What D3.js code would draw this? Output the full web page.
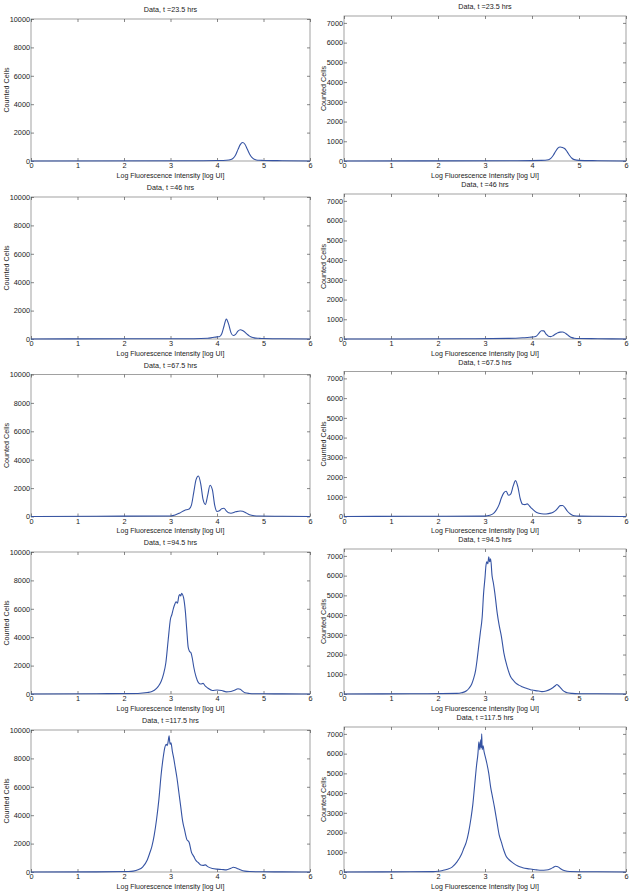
<!DOCTYPE html>
<html>
<head>
<meta charset="utf-8">
<script src="https://cdn.jsdelivr.net/npm/d3@7"></script>
<style>
  body { margin: 0; background: #fff; }
  svg { display: block; }
  text { font-family: "Liberation Sans", Arial, sans-serif; fill: #222; }
</style>
</head>
<body>
<div id="chart"></div>
<script>
// titles (one per row)
const titles = ["Data, t =23.5 hrs", "Data, t =46 hrs", "Data, t =67.5 hrs", "Data, t =94.5 hrs", "Data, t =117.5 hrs"];
const xTicks = [0, 1, 2, 3, 4, 5, 6];
const yTicksLeft = [0, 2000, 4000, 6000, 8000, 10000];
const yTicksRight = [0, 1000, 2000, 3000, 4000, 5000, 6000, 7000];

// left column series
const l1x = [0, 3.7, 4.0, 4.2, 4.3, 4.35, 4.4, 4.45, 4.5, 4.55, 4.6, 4.65, 4.7, 4.75, 4.8, 4.85, 4.9, 5.0, 5.4, 6];
const l1y = [0, 20, 30, 50, 100, 200, 420, 800, 1150, 1300, 1180, 850, 500, 250, 120, 70, 50, 40, 20, 0];

const l2x = [0, 0.8, 3.5, 3.8, 3.9, 4.0, 4.05, 4.1, 4.15, 4.2, 4.25, 4.3, 4.35, 4.4, 4.45, 4.5, 4.55, 4.6, 4.65, 4.7, 4.75, 4.8, 4.9, 5.0, 5.4, 6];
const l2y = [0, 10, 20, 50, 100, 150, 160, 350, 900, 1400, 1050, 450, 250, 330, 550, 650, 600, 480, 330, 200, 120, 80, 50, 30, 15, 0];

const l3x = [0, 1.4, 3.0, 3.1, 3.2, 3.3, 3.35, 3.4, 3.45, 3.5, 3.55, 3.6, 3.65, 3.7, 3.75, 3.8, 3.85, 3.9, 3.95, 4.0, 4.05, 4.1, 4.15, 4.2, 4.25, 4.3, 4.4, 4.5, 4.55, 4.6, 4.7, 4.8, 4.9, 5.4, 6];
const l3y = [0, 20, 40, 100, 250, 430, 480, 520, 800, 1700, 2600, 2850, 2300, 1200, 850, 1500, 2200, 1900, 800, 350, 400, 550, 580, 400, 260, 230, 330, 390, 370, 300, 120, 50, 30, 15, 0];

const l4x = [0, 1.4, 2.3, 2.5, 2.6, 2.7, 2.75, 2.8, 2.85, 2.9, 2.95, 3.0, 3.03, 3.06, 3.09, 3.12, 3.15, 3.18, 3.2, 3.22, 3.24, 3.26, 3.28, 3.3, 3.32, 3.35, 3.38, 3.41, 3.44, 3.47, 3.5, 3.55, 3.6, 3.65, 3.7, 3.75, 3.8, 3.9, 4.0, 4.1, 4.2, 4.3, 4.4, 4.45, 4.5, 4.55, 4.6, 4.7, 4.8, 5.0, 5.4, 6];
const l4y = [0, 20, 40, 100, 170, 400, 600, 900, 1400, 2200, 3800, 5300, 5600, 6000, 6300, 6500, 6400, 6900, 7000, 6900, 7100, 7000, 6800, 6400, 5800, 4500, 3300, 3000, 2900, 2500, 1900, 1200, 800, 700, 750, 550, 420, 250, 280, 250, 150, 180, 300, 370, 330, 200, 90, 40, 20, 15, 10, 0];

const l5x = [0, 1.4, 2.1, 2.2, 2.3, 2.4, 2.5, 2.55, 2.6, 2.65, 2.7, 2.75, 2.8, 2.84, 2.88, 2.91, 2.93, 2.95, 2.97, 2.99, 3.01, 3.04, 3.07, 3.1, 3.14, 3.18, 3.22, 3.26, 3.3, 3.35, 3.4, 3.45, 3.5, 3.55, 3.6, 3.65, 3.7, 3.75, 3.8, 3.9, 4.0, 4.1, 4.2, 4.3, 4.35, 4.4, 4.45, 4.5, 4.6, 4.7, 5.0, 5.4, 6];
const l5y = [0, 10, 30, 60, 150, 350, 850, 1300, 1800, 2600, 3700, 5100, 6900, 8000, 8800, 9000, 8900, 9200, 9600, 9000, 9100, 8500, 8000, 7400, 6600, 5600, 4600, 3600, 3000, 2300, 2100, 1400, 1100, 800, 650, 500, 470, 500, 380, 250, 200, 180, 150, 260, 330, 300, 230, 160, 60, 30, 15, 10, 0];

// right column series
const r1x = [0, 3.7, 4.2, 4.35, 4.4, 4.45, 4.5, 4.55, 4.6, 4.65, 4.7, 4.75, 4.8, 4.85, 4.9, 5.0, 5.4, 6];
const r1y = [0, 15, 30, 60, 130, 280, 480, 650, 710, 680, 620, 460, 280, 140, 70, 30, 15, 0];

const r2x = [0, 2.5, 3.5, 3.8, 3.95, 4.05, 4.1, 4.15, 4.2, 4.25, 4.3, 4.35, 4.4, 4.45, 4.5, 4.55, 4.6, 4.65, 4.7, 4.75, 4.8, 4.85, 4.9, 5.0, 5.4, 6];
const r2y = [0, 10, 30, 60, 90, 110, 160, 300, 420, 410, 250, 140, 120, 170, 250, 320, 350, 355, 310, 220, 130, 70, 40, 25, 15, 0];

const r3x = [0, 1.4, 3.0, 3.1, 3.2, 3.3, 3.35, 3.4, 3.45, 3.5, 3.55, 3.6, 3.65, 3.7, 3.75, 3.8, 3.85, 3.9, 3.95, 4.0, 4.1, 4.2, 4.3, 4.4, 4.45, 4.5, 4.55, 4.6, 4.65, 4.7, 4.75, 4.8, 4.85, 4.9, 5.0, 5.4, 6];
const r3y = [0, 10, 20, 60, 200, 600, 950, 1200, 1280, 1080, 1150, 1550, 1820, 1500, 900, 620, 600, 640, 520, 400, 200, 140, 130, 170, 220, 300, 430, 550, 560, 450, 280, 160, 80, 40, 20, 10, 0];

const r4x = [0, 1.4, 2.4, 2.5, 2.6, 2.66, 2.72, 2.76, 2.8, 2.83, 2.86, 2.9, 2.94, 2.97, 3.0, 3.02, 3.04, 3.06, 3.08, 3.1, 3.12, 3.15, 3.18, 3.21, 3.26, 3.3, 3.35, 3.4, 3.47, 3.54, 3.6, 3.65, 3.72, 3.79, 3.86, 3.93, 4.0, 4.07, 4.14, 4.21, 4.3, 4.4, 4.45, 4.5, 4.53, 4.56, 4.6, 4.65, 4.7, 4.75, 4.85, 5.0, 5.4, 6];
const r4y = [0, 10, 30, 60, 150, 290, 520, 800, 1200, 1700, 2300, 3100, 3900, 5100, 5900, 6500, 6700, 6600, 6950, 6700, 6850, 6000, 5600, 5100, 4100, 3500, 2900, 2100, 1400, 900, 700, 560, 450, 370, 300, 250, 200, 170, 150, 120, 150, 250, 330, 430, 480, 430, 330, 200, 110, 60, 30, 15, 10, 0];

const r5x = [0, 1.4, 1.9, 2.0, 2.1, 2.2, 2.3, 2.4, 2.5, 2.55, 2.6, 2.65, 2.7, 2.74, 2.78, 2.82, 2.85, 2.87, 2.89, 2.91, 2.92, 2.93, 2.94, 2.96, 2.98, 3.0, 3.04, 3.08, 3.12, 3.16, 3.2, 3.25, 3.3, 3.35, 3.4, 3.45, 3.5, 3.6, 3.7, 3.8, 3.9, 4.0, 4.1, 4.2, 4.3, 4.4, 4.45, 4.5, 4.55, 4.6, 4.7, 4.8, 5.0, 5.4, 6];
const r5y = [0, 10, 20, 40, 80, 140, 250, 500, 900, 1200, 1500, 2000, 2700, 3400, 4400, 5400, 6000, 6600, 6200, 6700, 6300, 7000, 6200, 6400, 6100, 5900, 5500, 5000, 4300, 3800, 3300, 2600, 1900, 1500, 1100, 800, 650, 450, 300, 220, 170, 140, 110, 90, 100, 170, 230, 290, 270, 180, 60, 25, 15, 10, 0];

const W = 632, H = 893;
const leftSeries = [[l1x, l1y], [l2x, l2y], [l3x, l3y], [l4x, l4y], [l5x, l5y]];
const rightSeries = [[r1x, r1y], [r2x, r2y], [r3x, r3y], [r4x, r4y], [r5x, r5y]];
const bottoms = [161, 339, 516.5, 694, 872];

const svg = d3.select("#chart").append("svg")
  .attr("width", W).attr("height", H)
  .attr("viewBox", [0, 0, W, H]);

const cols = [
  { x0: 31, x1: 310, hgt: 142, yMax: 10000, ticks: yTicksLeft, labX: 6, series: leftSeries },
  { x0: 344, x1: 626, hgt: 145, yMax: 7350, ticks: yTicksRight, labX: 323, series: rightSeries }
];

cols.forEach(col => {
  bottoms.forEach((b, i) => {
    const top = b - col.hgt;
    const sx = d3.scaleLinear().domain([0, 6]).range([col.x0, col.x1]);
    const sy = d3.scaleLinear().domain([0, col.yMax]).range([b, top]);
    const g = svg.append("g");

    // box
    g.append("rect")
      .attr("x", col.x0).attr("y", top)
      .attr("width", col.x1 - col.x0).attr("height", b - top)
      .attr("fill", "none").attr("stroke", "#8a8a8a").attr("stroke-width", 0.8);

    // bottom axis, ticks inside
    const ax = g.append("g").attr("transform", `translate(0,${b})`)
      .call(d3.axisBottom(sx).tickValues(xTicks).tickSizeInner(-3).tickSizeOuter(0).tickPadding(5).tickFormat(d3.format("d")));
    // top ticks
    const axTop = g.append("g").attr("transform", `translate(0,${top})`)
      .call(d3.axisTop(sx).tickValues(xTicks).tickSizeInner(-3).tickSizeOuter(0).tickFormat(""));
    const ay = g.append("g").attr("transform", `translate(${col.x0},0)`)
      .call(d3.axisLeft(sy).tickValues(col.ticks).tickSizeInner(-3).tickSizeOuter(0).tickPadding(1).tickFormat(d3.format("d")));
    const ayR = g.append("g").attr("transform", `translate(${col.x1},0)`)
      .call(d3.axisRight(sy).tickValues(col.ticks).tickSizeInner(-3).tickSizeOuter(0).tickFormat(""));

    [ax, axTop, ay, ayR].forEach(a => {
      a.select(".domain").remove();
      a.selectAll(".tick line").attr("stroke", "#555").attr("stroke-width", 0.7);
      a.selectAll(".tick text").attr("font-size", 7.3).attr("fill", "#222")
        .style("font-family", "'Liberation Sans', Arial, sans-serif");
    });
    ax.selectAll(".tick text").attr("dy", "0.3em");

    // data line
    const [xs, ys] = col.series[i];
    const pts = xs.map((x, k) => [x, ys[k]]);
    g.append("path")
      .attr("d", d3.line().x(d => sx(d[0])).y(d => sy(d[1])).curve(d3.curveMonotoneX)(pts))
      .attr("fill", "none")
      .attr("stroke", "#3553a3")
      .attr("stroke-width", 1.1)
      .attr("stroke-linejoin", "round");

    // title
    g.append("text")
      .attr("x", (col.x0 + col.x1) / 2).attr("y", top - 7)
      .attr("text-anchor", "middle").attr("font-size", 7.2)
      .text(titles[i]);

    // x label
    g.append("text")
      .attr("x", (col.x0 + col.x1) / 2).attr("y", b + 16.8)
      .attr("text-anchor", "middle").attr("font-size", 7)
      .text("Log Fluorescence Intensity [log UI]");

    // y label
    g.append("text")
      .attr("transform", `translate(${col.labX + 2.5},${(top + b) / 2}) rotate(-90)`)
      .attr("text-anchor", "middle").attr("font-size", 7.2)
      .text("Counted Cells");
  });
});
</script>
</body>
</html>
